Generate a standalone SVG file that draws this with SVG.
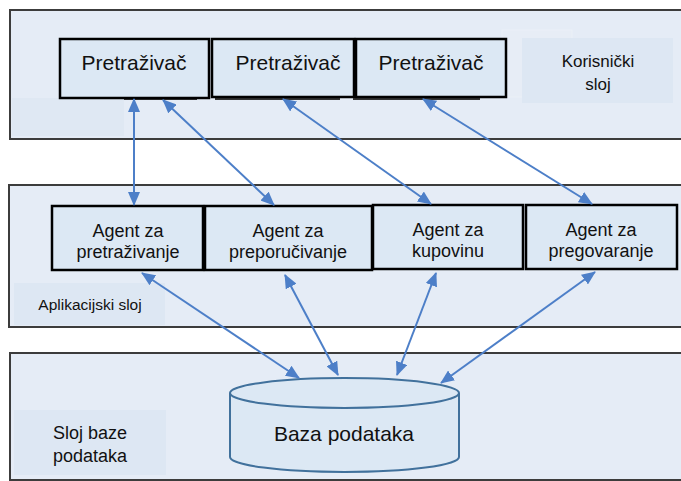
<svg xmlns="http://www.w3.org/2000/svg" width="681" height="481" viewBox="0 0 681 481">
<style>
.layer{fill:#e5ecf6;stroke:#3c3c3c;stroke-width:2}
.lbl{fill:#dde7f3}
.box{fill:#dce8f4;stroke:#000;stroke-width:2.5}
.t{font-family:"Liberation Sans",Arial,sans-serif;fill:#111;text-anchor:middle}
.conn{stroke:#4d7fc8;stroke-width:2;fill:none;marker-start:url(#ah);marker-end:url(#ah)}
.sh{stroke:#333;stroke-width:2}
</style>
<defs>
<marker id="ah" viewBox="0 0 14 12" refX="13" refY="6" markerWidth="14" markerHeight="12" markerUnits="userSpaceOnUse" orient="auto-start-reverse">
<path d="M0,0 L14,6 L0,12 z" fill="#4d7fc8"/>
</marker>
</defs>
<rect width="681" height="481" fill="#fff"/>
<g id="layer-user">
<rect class="layer" x="10" y="10" width="680" height="129"/>
<rect x="12" y="98" width="112" height="38" fill="#dfe8f3"/>
<rect x="502" y="30" width="70" height="67" fill="#e7edf6" stroke="#ebf0f7"/>
<rect class="lbl" x="522" y="38" width="151" height="65"/>
<text class="t" x="598" y="67" font-size="17">Korisnički</text>
<text class="t" x="598" y="90" font-size="17">sloj</text>
</g>
<g id="layer-app">
<rect class="layer" x="9" y="185" width="680" height="142"/>
<rect class="lbl" x="14" y="283" width="151" height="42"/>
<text class="t" x="90" y="310" font-size="15.5">Aplikacijski sloj</text>
</g>
<g id="layer-db">
<rect class="layer" x="10" y="353" width="680" height="127"/>
<rect class="lbl" x="14" y="410" width="152" height="65"/>
<text class="t" x="90" y="439" font-size="18">Sloj baze</text>
<text class="t" x="90" y="462" font-size="18">podataka</text>
</g>
<g id="browser1">
<line class="sh" x1="124" y1="99" x2="197" y2="99"/>
<rect class="box" x="60" y="39" width="149" height="59"/>
<text class="t" x="134" y="70" font-size="21">Pretraživač</text>
</g>
<g id="browser2">
<line class="sh" x1="215" y1="99" x2="340" y2="99"/>
<rect class="box" x="212" y="39" width="142" height="58"/>
<text class="t" x="288" y="70" font-size="21">Pretraživač</text>
</g>
<g id="browser3">
<line class="sh" x1="353" y1="99" x2="480" y2="99"/>
<rect class="box" x="356" y="39" width="150" height="58"/>
<text class="t" x="431" y="70" font-size="21">Pretraživač</text>
</g>
<g id="agent-search">
<rect class="box" x="52" y="206" width="151" height="64"/>
<text class="t" x="128" y="237" font-size="18">Agent za</text>
<text class="t" x="128" y="258" font-size="18">pretraživanje</text>
</g>
<g id="agent-recommend">
<rect class="box" x="205" y="206" width="167" height="64"/>
<text class="t" x="288" y="237" font-size="18">Agent za</text>
<text class="t" x="288" y="258" font-size="18">preporučivanje</text>
</g>
<g id="agent-buy">
<rect class="box" x="373" y="205" width="150" height="64"/>
<text class="t" x="448" y="236" font-size="18">Agent za</text>
<text class="t" x="448" y="257" font-size="18">kupovinu</text>
</g>
<g id="agent-negotiate">
<rect class="box" x="526" y="205" width="151" height="64"/>
<text class="t" x="601" y="236" font-size="18">Agent za</text>
<text class="t" x="601" y="257" font-size="18">pregovaranje</text>
</g>
<g id="database">
<path d="M230,393 L230,457 A114.5,15 0 0 0 459,457 L459,393" fill="#dce8f4" stroke="#41719c" stroke-width="2"/>
<ellipse cx="344.5" cy="393" rx="114.5" ry="15" fill="#dce8f4" stroke="#41719c" stroke-width="2"/>
<text class="t" x="344" y="441" font-size="21">Baza podataka</text>
</g>
<g id="connectors">
<line class="conn" x1="134" y1="99" x2="134" y2="205"/>
<line class="conn" x1="163" y1="100" x2="274" y2="205"/>
<line class="conn" x1="283" y1="99" x2="431" y2="204"/>
<line class="conn" x1="423" y1="99" x2="592" y2="204"/>
<line class="conn" x1="142" y1="273" x2="299" y2="378"/>
<line class="conn" x1="285" y1="275" x2="338" y2="375"/>
<line class="conn" x1="436" y1="273" x2="397" y2="375"/>
<line class="conn" x1="595" y1="272" x2="441" y2="383"/>
</g>
</svg>
